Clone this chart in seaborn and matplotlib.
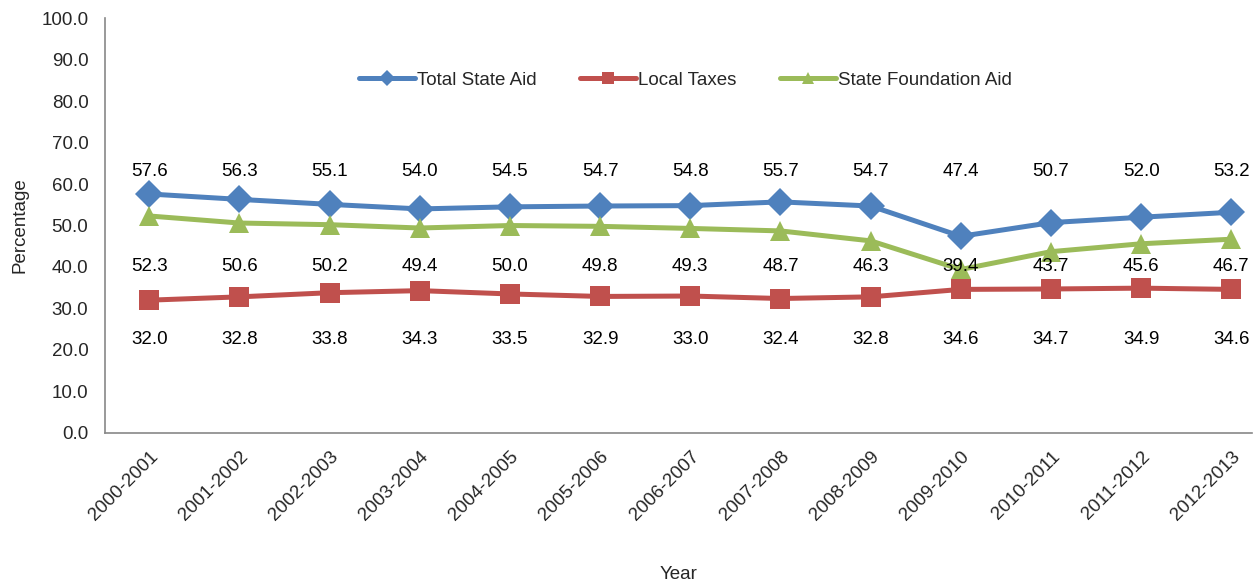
import matplotlib
matplotlib.use("Agg")
import matplotlib.pyplot as plt
import matplotlib.transforms as mtransforms
import seaborn as sns
import pandas as pd

years = ["2000-2001", "2001-2002", "2002-2003", "2003-2004", "2004-2005", "2005-2006",
         "2006-2007", "2007-2008", "2008-2009", "2009-2010", "2010-2011", "2011-2012", "2012-2013"]
total_state_aid = [57.6, 56.3, 55.1, 54.0, 54.5, 54.7, 54.8, 55.7, 54.7, 47.4, 50.7, 52.0, 53.2]
local_taxes = [32.0, 32.8, 33.8, 34.3, 33.5, 32.9, 33.0, 32.4, 32.8, 34.6, 34.7, 34.9, 34.6]
state_foundation_aid = [52.3, 50.6, 50.2, 49.4, 50.0, 49.8, 49.3, 48.7, 46.3, 39.4, 43.7, 45.6, 46.7]

sns.set_style("white")
plt.rcParams['font.family'] = ['Liberation Sans', 'DejaVu Sans']

FS = 13.5
fig = plt.figure(figsize=(12.55, 5.85), dpi=100)
ax = fig.add_axes([0.0837, 0.26, 0.914, 0.709])
blend = mtransforms.blended_transform_factory(ax.transData, ax.transAxes)

# (name, values, colour, marker, marker size, label row in axes fraction)
series = [
    ("Total State Aid", total_state_aid, "#4F81BD", "D", 14, 0.63),
    ("Local Taxes", local_taxes, "#C0504D", "s", 14, 0.224),
    ("State Foundation Aid", state_foundation_aid, "#9BBB59", "^", 14, 0.40),
]

x = list(range(len(years)))
for name, vals, color, marker, ms, row in series:
    df = pd.DataFrame({"x": x, "y": vals})
    sns.lineplot(data=df, x="x", y="y", ax=ax, color=color, linewidth=3.6,
                 marker=marker, markersize=ms, markeredgewidth=0, label=name)
    for xi, v in zip(x, vals):
        ax.text(xi, row, f"{v:.1f}", transform=blend,
                ha="center", va="center", fontsize=FS, color="black")

ax.set_xlim(-0.49, 12.23)
ax.set_ylim(0, 100)
ax.set_yticks([i * 10 for i in range(11)])
ax.set_yticklabels([f"{i*10:.1f}" for i in range(11)], fontsize=FS)
ax.set_xticks(x)
ax.set_xticklabels(years, rotation=45, ha="right", rotation_mode="anchor", fontsize=FS)
shift = mtransforms.ScaledTranslation(-5 / 100, 0, fig.dpi_scale_trans)
for lbl in ax.get_xticklabels():
    lbl.set_transform(lbl.get_transform() + shift)
ax.tick_params(axis="x", length=0, pad=11)
ax.tick_params(axis="y", length=0, pad=12)
ax.set_ylabel("Percentage", fontsize=FS, labelpad=9)
ax.set_xlabel("Year", fontsize=FS, labelpad=30)
for s in ["top", "right"]:
    ax.spines[s].set_visible(False)
for s in ["left", "bottom"]:
    ax.spines[s].set_color("#888888")
    ax.spines[s].set_linewidth(1.2)

ax.legend(loc="center", bbox_to_anchor=(0.506, 0.85), ncol=3, frameon=False, fontsize=FS,
          handlelength=3, columnspacing=2.3, handletextpad=0.1, markerscale=0.6)

fig.savefig("out.png", dpi=100)
